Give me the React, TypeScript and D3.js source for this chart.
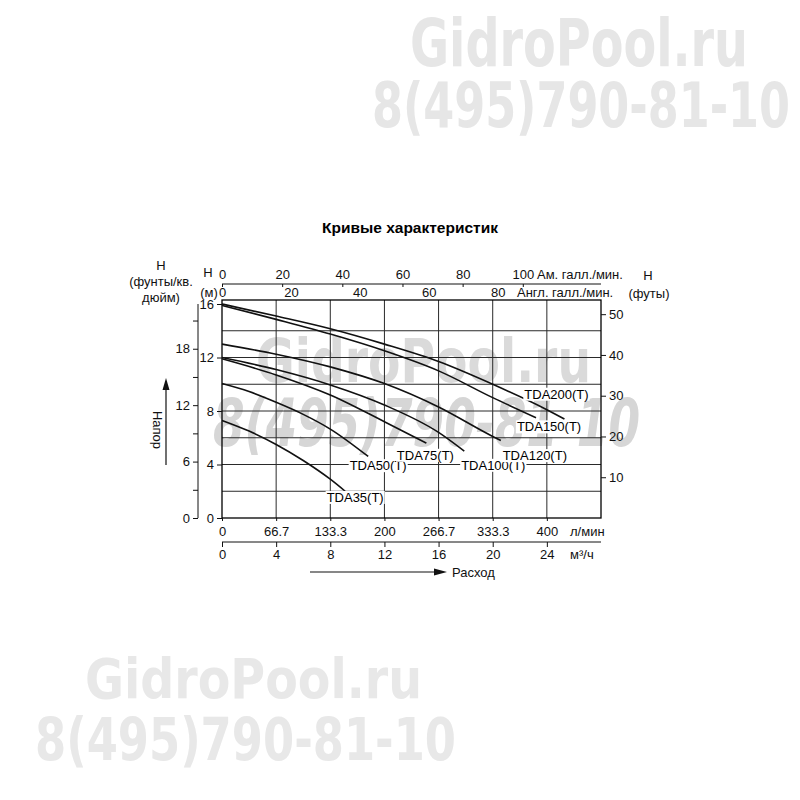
import { useEffect, useRef } from 'react';
import * as d3 from 'd3';

type Pt = [number, number];

// pump curves: [flow m³/h, head m]
const tda35: Pt[] = [[0, 7.3], [2, 6.5], [4, 5.5], [6, 4.3], [8, 2.9], [9.1, 2.0]];
const tda50: Pt[] = [[0, 10.05], [2, 9.45], [4, 8.65], [6, 7.75], [8, 6.65], [10.8, 4.6]];
const tda75: Pt[] = [[0, 11.9], [4, 10.7], [8, 9.2], [12, 7.2], [15.1, 5.6]];
const tda100: Pt[] = [[0, 12.0], [4, 11.1], [8, 9.95], [12, 8.45], [16, 6.4], [17.9, 5.0]];
const tda120: Pt[] = [[0, 13.0], [4, 12.25], [8, 11.3], [12, 10.05], [16, 8.3], [20, 6.1], [20.6, 5.8]];
const tda150: Pt[] = [[0, 15.9], [4, 14.85], [8, 13.75], [12, 12.5], [16, 11.0], [20, 9.0], [23.2, 7.5]];
const tda200: Pt[] = [[0, 16.0], [4, 15.1], [8, 14.15], [12, 13.0], [16, 11.7], [20, 10.0], [24, 8.1], [25.3, 7.4]];

const modelNames = ['TDA35(T)', 'TDA50(T)', 'TDA75(T)', 'TDA100(T)', 'TDA120(T)', 'TDA150(T)', 'TDA200(T)'];
const modelCurves = [tda35, tda50, tda75, tda100, tda120, tda150, tda200];
// label centre relative to the curve end, px
const labelOffsets: Pt[] = [[10, 6], [10, 9], [-1, 12], [29, 14], [34, 15], [13, 9], [-8, -25]];

const flowM3hTicks = [0, 4, 8, 12, 16, 20, 24];
const headMTicks = [0, 4, 8, 12, 16];
const headPsiTicks = [0, 3, 6, 9, 12, 15, 18, 21];
const headFtTicks = [10, 20, 30, 40, 50];
const usGpmTicks = [0, 20, 40, 60, 80, 100];
const ukGpmTicks = [0, 20, 40, 60, 80];

const flowMax = 28; // m³/h
const headMax = 16.3; // m
const usGpmMax = 126;
const ukGpmMax = 110;

const title = 'Кривые характеристик';
const siteMark = 'GidroPool.ru';
const phoneMark = '8(495)790-81-10';

const font = 'Liberation Sans, Arial, sans-serif';

const App = () => {
  const svgRef = useRef<SVGSVGElement>(null);

  useEffect(() => {
    const svg = d3.select(svgRef.current);
    svg.selectAll('*').remove();

    const left = 222;
    const right = 601;
    const top = 300;
    const bottom = 518;

    const x = d3.scaleLinear([0, flowMax], [left, right]);
    const xLpm = d3.scaleLinear([0, (flowMax * 1000) / 60], [left, right]);
    const xUs = d3.scaleLinear([0, usGpmMax], [left, right]);
    const xUk = d3.scaleLinear([0, ukGpmMax], [left, right]);
    const y = d3.scaleLinear([0, headMax], [bottom, top]);
    const yFt = d3.scaleLinear([0, headMax * 3.2808], [bottom, top]);
    const yPsi = d3.scaleLinear([0, headMax / 0.70307], [bottom, top]);

    // watermarks
    const wm = svg.append('g');
    const mark = (t: string, px: number, py: number, size: number, len: number, fam: string, fill: string, italic = false) =>
      wm
        .append('text')
        .attr('x', px)
        .attr('y', py)
        .attr('font-family', fam)
        .attr('font-weight', 'bold')
        .attr('font-style', italic ? 'italic' : 'normal')
        .attr('font-size', size)
        .attr('fill', fill)
        .attr('textLength', len)
        .attr('lengthAdjust', 'spacingAndGlyphs')
        .text(t);
    mark(siteMark, 410, 66, 66, 338, 'Liberation Sans Narrow, DejaVu Sans Condensed, sans-serif', '#e6e6e6');
    mark(phoneMark, 372, 127, 62, 418, 'Liberation Sans Narrow, DejaVu Sans Condensed, sans-serif', '#e6e6e6');
    mark(siteMark, 85, 698, 56, 337, 'DejaVu Sans, sans-serif', '#e8e8e8');
    mark(phoneMark, 35, 760, 58, 421, 'DejaVu Sans, sans-serif', '#e8e8e8');
    mark(siteMark, 256, 382, 60, 335, 'DejaVu Sans, sans-serif', '#dadada');
    mark(phoneMark, 213, 446, 66, 427, 'DejaVu Sans, sans-serif', '#d6d6d6', true);

    // title
    svg
      .append('text')
      .attr('x', 410)
      .attr('y', 233)
      .attr('text-anchor', 'middle')
      .attr('font-family', font)
      .attr('font-weight', 'bold')
      .attr('font-size', 15.5)
      .text(title);

    // grid
    const grid = svg.append('g').attr('stroke', '#2a2a2a').attr('stroke-width', 1);
    grid
      .selectAll('line.v')
      .data(flowM3hTicks.slice(1))
      .join('line')
      .attr('x1', (d) => x(d))
      .attr('x2', (d) => x(d))
      .attr('y1', top)
      .attr('y2', bottom);
    grid
      .selectAll('line.h')
      .data(d3.range(2, 16, 2))
      .join('line')
      .attr('class', 'h')
      .attr('x1', left)
      .attr('x2', right)
      .attr('y1', (d) => y(d))
      .attr('y2', (d) => y(d));

    svg
      .append('rect')
      .attr('x', left)
      .attr('y', top)
      .attr('width', right - left)
      .attr('height', bottom - top)
      .attr('fill', 'none')
      .attr('stroke', '#000')
      .attr('stroke-width', 1.3);

    // curves
    const line = d3
      .line<Pt>()
      .x((d) => x(d[0]))
      .y((d) => y(d[1]))
      .curve(d3.curveMonotoneX);
    svg
      .append('g')
      .selectAll('path')
      .data(modelCurves)
      .join('path')
      .attr('d', (d) => line(d))
      .attr('fill', 'none')
      .attr('stroke', '#111')
      .attr('stroke-width', 1.6);

    // curve labels with white background
    const lab = svg.append('g');
    modelCurves.forEach((c, i) => {
      const end = c[c.length - 1];
      const cx = x(end[0]) + labelOffsets[i][0];
      const cy = y(end[1]) + labelOffsets[i][1];
      const g = lab.append('g');
      const t = g
        .append('text')
        .attr('x', cx)
        .attr('y', cy)
        .attr('dy', '0.36em')
        .attr('text-anchor', 'middle')
        .attr('font-family', font)
        .attr('font-size', 13)
        .text(modelNames[i]);
      const bb = (t.node() as SVGTextElement).getBBox();
      g.insert('rect', 'text')
        .attr('x', bb.x - 1)
        .attr('y', bb.y + 1)
        .attr('width', bb.width + 2)
        .attr('height', bb.height - 2)
        .attr('fill', '#fff');
    });

    const styleAxis = (g: d3.Selection<SVGGElement, unknown, null, undefined>) => {
      g.attr('font-family', font).attr('font-size', 13);
      g.selectAll('text').attr('fill', '#111');
      g.selectAll('line, path').attr('stroke', '#111');
    };

    // left m axis
    svg
      .append('g')
      .attr('transform', `translate(${left},0)`)
      .call(d3.axisLeft(y).tickValues(headMTicks).tickSize(5).tickPadding(3).tickSizeOuter(0))
      .call((g) => g.select('.domain').remove())
      .call(styleAxis);

    // psi axis
    svg
      .append('g')
      .attr('transform', 'translate(198,0)')
      .call(
        d3
          .axisLeft(yPsi)
          .tickValues(headPsiTicks)
          .tickSize(5)
          .tickPadding(3)
          .tickSizeOuter(0)
          .tickFormat((d) => ((d as number) % 6 === 0 ? String(d) : ''))
      )
      .call((g) => g.select('.domain').attr('d', `M0,${y(16)}V${bottom}`))
      .call(styleAxis);

    // feet axis
    svg
      .append('g')
      .attr('transform', `translate(${right},0)`)
      .call(d3.axisRight(yFt).tickValues(headFtTicks).tickSize(5).tickPadding(3).tickSizeOuter(0))
      .call((g) => g.select('.domain').remove())
      .call(styleAxis);

    // l/min axis
    svg
      .append('g')
      .attr('transform', `translate(0,${bottom})`)
      .call(
        d3
          .axisBottom(xLpm)
          .tickValues(flowM3hTicks.map((q) => (q * 1000) / 60))
          .tickSize(3)
          .tickPadding(6)
          .tickSizeOuter(0)
          .tickFormat((d) => String(Math.round((d as number) * 10) / 10))
      )
      .call((g) => g.select('.domain').remove())
      .call(styleAxis);

    // m³/h axis
    svg
      .append('g')
      .attr('transform', 'translate(0,542)')
      .call(d3.axisBottom(x).tickValues(flowM3hTicks).tickSize(5).tickPadding(3).tickSizeOuter(0))
      .call((g) => g.select('.domain').attr('d', `M${left},0H${right}`))
      .call(styleAxis);

    // US gal/min axis
    svg
      .append('g')
      .attr('transform', 'translate(0,284)')
      .call(d3.axisTop(xUs).tickValues(usGpmTicks).tickSize(-3).tickPadding(5).tickSizeOuter(0))
      .call((g) => g.select('.domain').attr('d', `M${left},0H${right}`))
      .call(styleAxis);

    // UK gal/min axis
    svg
      .append('g')
      .attr('transform', `translate(0,${top})`)
      .call(d3.axisTop(xUk).tickValues(ukGpmTicks).tickSize(0).tickPadding(3).tickSizeOuter(0))
      .call((g) => g.select('.domain').remove())
      .call(styleAxis);

    // unit labels
    const txt = (t: string, px: number, py: number, anchor = 'start') =>
      svg
        .append('text')
        .attr('x', px)
        .attr('y', py)
        .attr('text-anchor', anchor)
        .attr('font-family', font)
        .attr('font-size', 13)
        .attr('fill', '#111')
        .text(t);
    txt('Ам. галл./мин.', 537, 279);
    txt('Англ. галл./мин.', 517, 297);
    txt('H', 648, 280, 'middle');
    txt('(футы)', 649, 298, 'middle');
    txt('H', 161, 270, 'middle');
    txt('(фунты/кв.', 161, 286, 'middle');
    txt('дюйм)', 161, 302, 'middle');
    txt('H', 208, 277, 'middle');
    txt('(м)', 209, 297, 'middle');
    txt('л/мин', 570, 536);
    txt('м³/ч', 570, 559);

    // Напор arrow
    svg.append('line').attr('x1', 166).attr('x2', 166).attr('y1', 388).attr('y2', 465).attr('stroke', '#111').attr('stroke-width', 1.2);
    svg.append('path').attr('d', 'M166,378L162.5,390H169.5Z').attr('fill', '#111');
    svg
      .append('text')
      .attr('transform', 'translate(153,430) rotate(90)')
      .attr('text-anchor', 'middle')
      .attr('font-family', font)
      .attr('font-size', 13)
      .attr('fill', '#111')
      .text('Напор');

    // Расход arrow
    svg.append('line').attr('x1', 310).attr('x2', 436).attr('y1', 572).attr('y2', 572).attr('stroke', '#111').attr('stroke-width', 1.2);
    svg.append('path').attr('d', 'M447,572L434,568.5V575.5Z').attr('fill', '#111');
    txt('Расход', 452, 577);
  }, []);

  return (
    <svg
      ref={svgRef}
      width={800}
      height={800}
      style={{ position: 'absolute', left: 0, top: 0, background: '#fff' }}
    />
  );
};

export default App;
